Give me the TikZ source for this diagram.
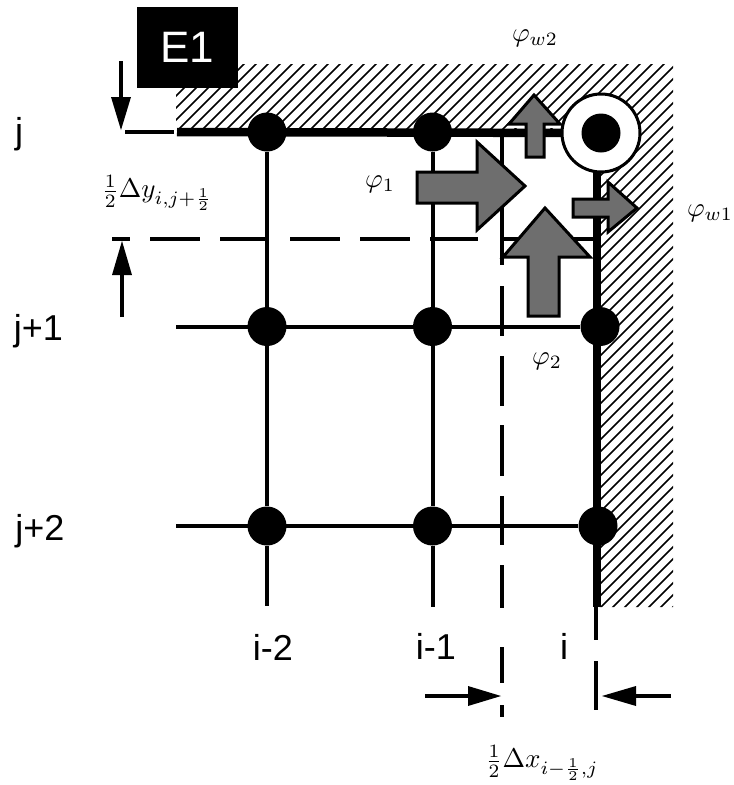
\documentclass[tikz,border=0pt]{standalone}
\usepackage{fontspec}
\setmainfont{Liberation Sans}
\begin{document}
\begin{tikzpicture}[x=1pt,y=-1pt,
  dot/.style={circle,fill=black,inner sep=0pt,minimum size=39pt},
  gridline/.style={line width=4pt,black},
  wall/.style={line width=8.5pt,black},
  dimline/.style={line width=4.5pt,black},
  flux/.style={fill=black!57,draw=black,line width=3pt,line join=miter},
  hatchline/.style={line width=1.6pt,black},
  dimarrow/.style={line width=4.5pt,black},
  lab/.style={inner sep=0pt,font=\fontsize{36}{40}\selectfont},
  mlab/.style={inner sep=0pt,scale=2.7,transform shape}]
\useasboundingbox (0,0) rectangle (734,785);
\fill[white] (0,0) rectangle (734,785);
% hatching
\begin{scope}
  \clip (176,64) -- (673,64) -- (673,607) -- (597,607) -- (597,130) -- (176,130) -- cycle;
  \foreach \k in {0,...,95} {
    \draw[hatchline] (176+12*\k,60) -- (176+12*\k-600,660);
  }
\end{scope}
% named points
\node[dot] (a1) at (267,132) {};
\node[dot] (a2) at (432.5,132) {};
\coordinate (a3) at (601,133);
\node[dot] (b1) at (267,326.5) {};
\node[dot] (b2) at (432.5,326.5) {};
\node[dot] (b3) at (600,326.5) {};
\node[dot] (c1) at (267,526) {};
\node[dot] (c2) at (432.5,526) {};
\node[dot] (c3) at (598,526) {};
\coordinate (w0) at (177,132);
\coordinate (s1) at (176,326.5);
\coordinate (s2) at (176,526);
\coordinate (e1) at (267,606);
\coordinate (e2) at (432.5,607);
\coordinate (e3) at (597,607);
% grid
\draw[gridline] (a1) -- (b1) -- (c1) -- (e1);
\draw[gridline] (a2) -- (b2) -- (c2) -- (e2);
\draw[gridline] (s1) -- (b3);
\draw[gridline] (s2) -- (c3);
\fill[white] (512,122) rectangle (557,128);
\draw[wall] (w0) -- (a3);
\draw[line width=8.5pt] (597,133) -- (e3);
\draw[dimline] (125,132) -- (174,132);
% dashed horizontal
\coordinate (dh0) at (112,239);
\coordinate (dh1) at (478,239);
\draw[dimline,dash pattern=on 18pt off 20pt on 50pt off 20pt on 47pt off 23pt on 50pt off 20pt on 50pt off 20pt on 48pt off 100pt] (dh0) -- (dh1);
\coordinate (dh2) at (502,239);
\coordinate (dh3) at (597,239);
\draw[dimline] (dh2) -- (dh3);
% dashed vertical
\coordinate (dv0) at (502,132);
\coordinate (dv1) at (502,717);
\draw[dimline,dash pattern=on 133pt off 21pt on 50pt off 20pt on 50pt off 19pt on 51pt off 20pt on 49pt off 20pt on 43pt off 39pt on 36pt off 22pt on 12pt off 100pt] (dv0) -- (dv1);
% lower end of the wall line
\coordinate (dw0) at (596,607);
\coordinate (dw1) at (596,710);
\draw[dimline,dash pattern=on 33pt off 21pt on 49pt off 100pt] (dw0) -- (dw1);
% ring
\node[dot,fill=white,draw=black,line width=3pt,minimum size=78pt] (ring) at (a3) {};
\node[dot] (a3dot) at (a3) {};
% flux arrows
\draw[flux] (417,172) -- (477,172) -- (477,142) -- (525,186) -- (477,230) -- (477,203) -- (417,203) -- cycle;
\draw[flux] (545,208) -- (590,257) -- (559,257) -- (559,316) -- (528,316) -- (528,257) -- (503,257) -- cycle;
\draw[flux] (534,95) -- (560,124) -- (544,124) -- (544,157) -- (526,157) -- (526,124) -- (509,124) -- cycle;
\draw[flux] (573,199) -- (608,199) -- (608,182) -- (637,208) -- (608,232) -- (608,217) -- (573,217) -- cycle;
% E1
\node[fill=black,text=white,minimum width=101pt,minimum height=81pt,inner sep=0pt,font=\fontsize{44}{50}\selectfont] (E1) at (187.5,47.5) {E1\hspace{5pt}};
% dimension arrows
\coordinate (v1a) at (121,61);
\coordinate (v1b) at (121,130);
\draw[dimarrow] (v1a) -- (121,100);
\fill (111,97) -- (131,97) -- (v1b) -- cycle;
\coordinate (v2a) at (122,317);
\coordinate (v2b) at (122,241);
\draw[dimarrow] (v2a) -- (122,270);
\fill (112,275) -- (132,275) -- (v2b) -- cycle;
\coordinate (h1a) at (425,696);
\coordinate (h1b) at (501,696);
\draw[dimarrow] (h1a) -- (470,696);
\fill (468,686) -- (468,706) -- (h1b) -- cycle;
\coordinate (h2a) at (671,696);
\coordinate (h2b) at (602,696);
\draw[dimarrow] (h2a) -- (635,696);
\fill (636,686) -- (636,706) -- (h2b) -- cycle;
% labels
\node[lab] (lj) at (19,134) {j};
\node[lab] (lj1) at (38.5,331) {j+1};
\node[lab] (lj2) at (40,531) {j+2};
\node[lab] (li2) at (273,647) {i-2};
\node[lab] (li1) at (436,646) {i-1};
\node[lab] (li) at (564,646) {i};
\node[mlab] (p1) at (380,184) {$\varphi_1$};
\node[mlab] (p2) at (547,361) {$\varphi_2$};
\node[mlab] (pw2) at (535,38) {$\varphi_{w2}$};
\node[mlab] (pw1) at (710,213) {$\varphi_{w1}$};
\node[mlab] (dy) at (157,193) {$\frac{1}{2}\Delta y_{i,j+\frac{1}{2}}$};
\node[mlab] (dx) at (542,763) {$\frac{1}{2}\Delta x_{i-\frac{1}{2},j}$};
\end{tikzpicture}
\end{document}
